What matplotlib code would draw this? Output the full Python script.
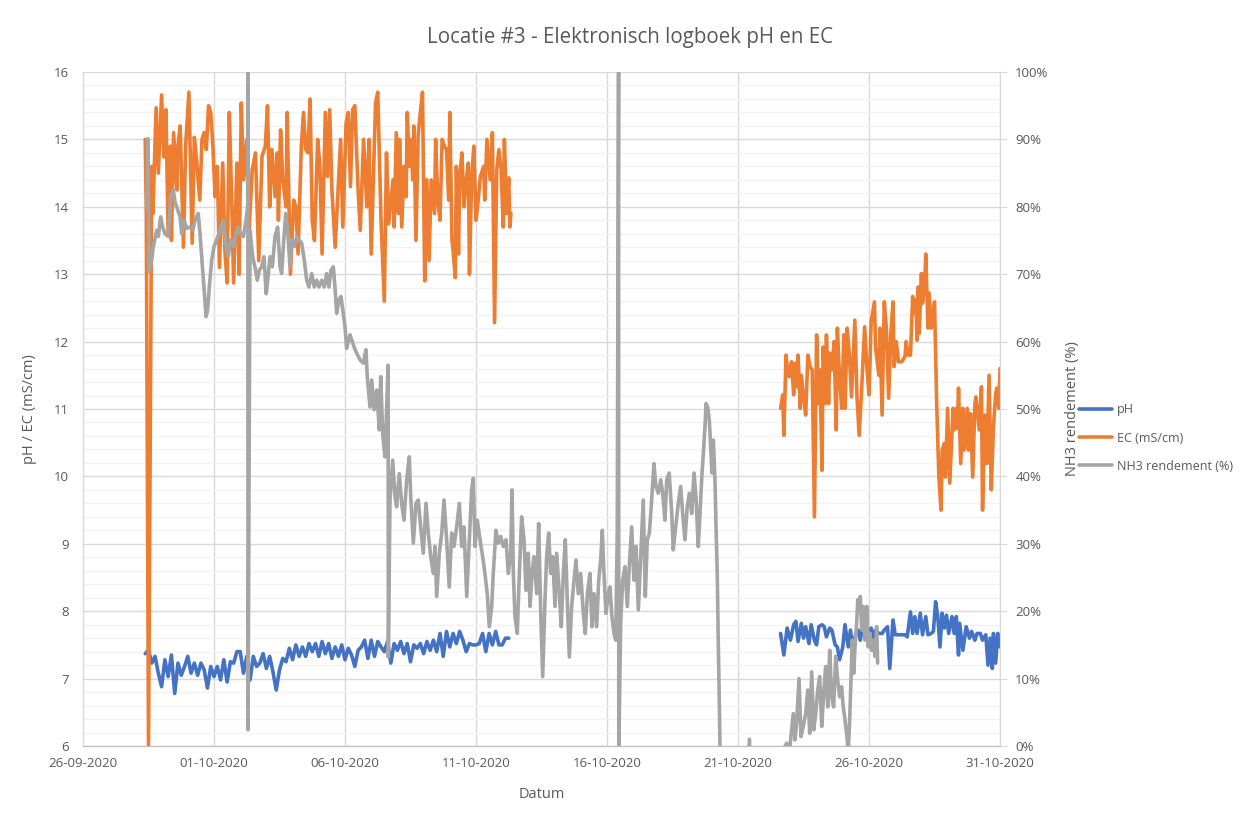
import numpy as np
import pandas as pd
import matplotlib
matplotlib.use("Agg")
import matplotlib.pyplot as plt
import matplotlib.dates as mdates
from matplotlib.ticker import MultipleLocator, FuncFormatter, FixedLocator

plt.rcParams['font.family'] = ['Open Sans', 'DejaVu Sans']

# ---------------- data ----------------
title = "Locatie #3 - Elektronisch logboek pH en EC"
base_date = "2020-09-26"      # hours below are counted from this date
x_start, x_end = "2020-09-26", "2020-10-31"

# EC (mS/cm), first logging period: (hour, value)
ec_part1 = [
    (57, 15.0), (58, 13.9), (60, 6.0), (63, 14.6), (64, 13.9), (67, 15.47), (69, 14.5), (72, 15.66), (74, 14.74), (76, 15.44),
    (78, 13.6), (80, 14.9), (81, 13.5), (83, 15.1), (86, 14.25), (87, 14.9), (89, 15.2), (92, 13.4), (94, 14.9), (97, 15.7),
    (100, 13.46), (102, 15.03), (104, 14.7), (107, 14.1), (109, 15.0), (111, 15.1), (113, 14.85), (115, 15.5), (117, 15.4), (119, 14.9),
    (121, 14.15), (123, 14.6), (125, 13.1), (128, 14.65), (130, 13.35), (132, 12.87), (134, 15.4), (136, 14.25), (138, 12.87), (141, 14.65),
    (143, 13.0), (145, 15.54), (147, 14.4), (150, 15.0), (152, 13.6), (155, 14.55), (158, 14.8), (161, 13.2), (164, 14.75), (167, 14.9),
    (169, 15.5), (171, 14.0), (173, 14.85), (176, 14.15), (178, 14.8), (179, 13.8), (181, 15.14), (183, 14.4), (186, 14.0), (187, 15.4),
    (190, 13.0), (193, 14.1), (195, 14.0), (197, 13.3), (200, 14.9), (202, 15.4), (204, 14.85), (206, 14.8), (208, 15.6), (210, 13.8),
    (212, 13.5), (215, 15.0), (217, 14.6), (219, 13.3), (222, 15.4), (224, 14.45), (226, 15.44), (228, 14.25), (231, 13.4), (234, 14.35),
    (236, 15.0), (238, 13.7), (241, 15.24), (243, 15.4), (245, 14.3), (247, 15.44), (249, 15.5), (252, 14.25), (254, 13.65), (257, 15.0),
    (260, 14.0), (262, 15.0), (264, 13.3), (266, 14.4), (268, 15.55), (270, 15.7), (273, 13.8), (276, 12.6), (278, 14.8), (280, 13.75),
    (284, 14.4), (285, 13.7), (287, 15.1), (289, 13.9), (290, 15.0), (292, 13.7), (294, 14.6), (296, 14.15), (297, 15.4), (299, 14.6),
    (301, 15.0), (302, 14.4), (303, 15.2), (305, 13.5), (307, 15.06), (309, 15.4), (311, 15.7), (313, 12.9), (315, 14.4), (317, 13.2),
    (319, 14.4), (322, 13.9), (323, 15.0), (325, 14.1), (327, 13.8), (329, 15.0), (331, 14.9), (333, 14.85), (335, 14.1), (336, 15.4),
    (338, 13.5), (339, 13.35), (341, 12.95), (342, 14.6), (344, 13.3), (345, 14.4), (347, 14.8), (349, 14.0), (351, 14.4), (353, 14.65),
    (354, 13.0), (356, 14.4), (358, 14.9), (360, 13.8), (362, 14.1), (364, 14.45), (367, 14.6), (368, 14.1), (370, 15.0), (373, 14.4),
    (375, 15.1), (377, 12.28), (379, 14.55), (381, 14.85), (383, 14.55), (385, 13.7), (386, 15.0), (388, 13.9), (390, 14.43), (391, 13.7),
    (392, 13.9),
]

# EC (mS/cm), second logging period: (hour, value)
ec_part2 = [
    (639, 11.01), (641, 11.21), (642, 10.61), (644, 11.80), (646, 11.50), (647, 11.48), (649, 11.70), (651, 11.21), (652, 11.68), (654, 11.33),
    (655, 11.80), (657, 11.01), (658, 11.50), (660, 11.18), (662, 10.91), (664, 11.80), (666, 11.63), (668, 11.58), (670, 9.40), (672, 12.10),
    (674, 11.08), (675, 11.58), (677, 10.09), (678, 11.92), (680, 11.08), (681, 12.10), (683, 11.08), (684, 11.83), (686, 11.58), (688, 12.0),
    (690, 10.69), (691, 12.2), (693, 11.48), (695, 11.01), (697, 12.10), (698, 11.01), (700, 12.2), (702, 11.80), (704, 11.18), (707, 12.32),
    (709, 11.18), (711, 10.61), (713, 11.21), (716, 12.22), (718, 11.63), (720, 11.21), (722, 12.30), (725, 12.59), (726, 11.92), (729, 11.50),
    (730, 12.2), (732, 10.91), (734, 12.59), (736, 12.17), (738, 11.16), (740, 12.12), (742, 12.59), (743, 11.63), (745, 12.0), (747, 11.70),
    (750, 11.70), (753, 11.78), (754, 12.0), (756, 11.80), (758, 11.80), (760, 12.67), (761, 12.42), (763, 12.62), (764, 12.02), (765, 12.81),
    (766, 12.12), (768, 13.01), (769, 12.57), (771, 12.86), (772, 13.3), (774, 12.2), (775, 12.72), (777, 12.2), (778, 12.32), (780, 12.59),
    (782, 11.08), (784, 9.99), (786, 9.50), (787, 10.39), (789, 10.49), (790, 9.99), (792, 11.01), (794, 9.90), (797, 11.01), (798, 10.69),
    (800, 11.01), (801, 10.71), (802, 11.31), (804, 10.19), (806, 11.01), (807, 10.39), (810, 11.01), (811, 10.39), (813, 10.93), (815, 9.99),
    (817, 11.08), (818, 11.18), (821, 10.69), (823, 11.33), (824, 9.50), (826, 10.91), (828, 10.19), (830, 11.50), (832, 9.80), (834, 10.74),
    (836, 11.21), (837, 11.31), (839, 11.01), (840, 11.6),
]

# pH, first logging period, one reading every 3 hours
ph_part1_start = "2020-09-28 09:00"
ph_part1 = [
    7.37, 7.42, 7.23, 7.33, 7.08, 6.88, 7.28, 7.03, 7.35, 6.78,
    7.23, 7.05, 7.18, 7.33, 7.08, 7.23, 7.05, 7.23, 7.13, 6.86,
    7.18, 7.03, 7.18, 6.98, 7.28, 6.95, 7.25, 7.23, 7.40, 7.40,
    7.08, 7.33, 6.98, 7.33, 7.18, 7.23, 7.37, 7.15, 7.33, 7.10,
    6.83, 7.13, 7.30, 7.25, 7.45, 7.28, 7.50, 7.33, 7.47, 7.33,
    7.52, 7.40, 7.52, 7.33, 7.55, 7.37, 7.52, 7.30, 7.47, 7.33,
    7.50, 7.28, 7.45, 7.35, 7.18, 7.42, 7.47, 7.57, 7.30, 7.57,
    7.33, 7.55, 7.47, 7.40, 7.55, 7.23, 7.52, 7.42, 7.55, 7.37,
    7.52, 7.25, 7.50, 7.45, 7.52, 7.37, 7.55, 7.42, 7.57, 7.40,
    7.67, 7.33, 7.70, 7.47, 7.67, 7.52, 7.70, 7.57, 7.40, 7.52,
    7.50, 7.50, 7.52, 7.67, 7.40, 7.67, 7.50, 7.70, 7.50, 7.50,
    7.60, 7.60,
]

# pH, second logging period: (hour, value)
ph_part2 = [
    (639, 7.67), (642, 7.35), (645, 7.75), (648, 7.57), (651, 7.80), (653, 7.85), (655, 7.55), (658, 7.82), (660, 7.60), (662, 7.77),
    (665, 7.52), (667, 7.80), (670, 7.57), (672, 7.50), (674, 7.77), (677, 7.80), (679, 7.77), (681, 7.62), (684, 7.75), (686, 7.72),
    (689, 7.50), (691, 7.47), (693, 7.28), (696, 7.47), (698, 7.80), (701, 7.47), (703, 7.72), (705, 7.47), (708, 7.67), (710, 7.72),
    (712, 7.57), (714, 7.75), (717, 7.60), (719, 7.60), (722, 7.75), (724, 7.60), (726, 7.72), (729, 7.67), (732, 7.67), (734, 7.72),
    (737, 7.77), (739, 7.15), (742, 7.87), (744, 7.65), (747, 7.65), (750, 7.65), (753, 7.65), (755, 7.62), (758, 7.99), (760, 7.67),
    (762, 7.92), (764, 7.67), (767, 7.97), (769, 7.65), (772, 7.92), (774, 7.65), (777, 7.67), (779, 7.70), (781, 8.14), (783, 7.92),
    (785, 7.47), (787, 7.97), (789, 7.75), (791, 7.94), (793, 7.67), (796, 7.92), (798, 7.67), (800, 7.92), (802, 7.35), (803, 7.82),
    (806, 7.42), (809, 7.77), (812, 7.60), (814, 7.70), (817, 7.57), (819, 7.67), (822, 7.67), (824, 7.57), (827, 7.65), (829, 7.20),
    (831, 7.60), (833, 7.15), (834, 7.67), (836, 7.23), (838, 7.67), (840, 7.47),
]

# NH3 rendement (%): (hour, value)
nh3_rendement = [
    (58.5, 80.0), (59.3, 90.1), (60.5, 70.4), (62.9, 72.1), (64.4, 74.1), (67.5, 76.5), (69.0, 75.6), (71.1, 78.5), (73.0, 77.0), (75.1, 76.0),
    (78.2, 75.6), (80.3, 81.5), (82.7, 82.5), (84.3, 80.7), (85.8, 80.0), (88.9, 78.5), (90.4, 76.0), (92.5, 78.0), (95.0, 76.8), (98.0, 77.0),
    (100.5, 76.5), (102.6, 78.0), (105.6, 79.0), (107.2, 76.0), (108.7, 72.6), (110.8, 68.1), (112.7, 63.7), (114.2, 64.7), (115.7, 68.1), (117.9, 72.1),
    (120.0, 74.1), (122.5, 75.1), (125.5, 76.5), (128.5, 78.0), (131.0, 74.1), (133.1, 72.6), (135.3, 75.1), (137.7, 74.1), (140.1, 76.0), (142.3, 77.0),
    (144.4, 76.0), (146.9, 75.6), (149.3, 78.0), (150.9, 80.0), (151.0, 101.0), (151.2, 2.4), (153.0, 76.5), (155.4, 72.6), (157.5, 71.1), (159.7, 69.1),
    (161.5, 70.6), (163.7, 71.1), (165.8, 72.6), (167.8, 67.1), (169.2, 69.1), (171.3, 72.6), (173.4, 71.1), (175.9, 75.6), (178.3, 77.0), (180.5, 71.1),
    (182.0, 70.1), (183.5, 74.1), (185.7, 79.0), (187.5, 76.5), (189.6, 71.1), (191.2, 75.1), (193.6, 74.1), (195.8, 75.6), (197.9, 75.1), (200.3, 74.6),
    (202.7, 72.1), (204.9, 69.1), (207.0, 68.1), (209.5, 70.1), (211.9, 68.1), (214.1, 69.1), (216.2, 68.1), (218.7, 69.1), (221.0, 68.1), (223.2, 70.1),
    (225.3, 68.1), (227.2, 70.6), (229.3, 71.1), (230.8, 68.1), (232.4, 64.2), (234.5, 66.2), (236.3, 66.7), (238.4, 64.2), (240.0, 62.2), (241.5, 59.0),
    (244.6, 61.0), (249.2, 58.8), (253.7, 57.3), (256.8, 56.8), (259.2, 58.8), (260.4, 54.8), (262.9, 50.3), (264.5, 54.3), (266.6, 49.9), (269.1, 52.8),
    (271.4, 46.9), (272.7, 54.8), (274.5, 46.4), (276.6, 42.9), (278.2, 50.3), (279.5, 56.5), (279.7, 13.2), (281.2, 36.5), (283.7, 42.4), (285.8, 37.0),
    (287.3, 35.5), (289.7, 40.4), (291.9, 36.0), (294.0, 33.5), (296.5, 39.5), (298.9, 42.9), (300.2, 37.0), (302.6, 30.1), (305.0, 36.0), (307.1, 36.5),
    (309.3, 32.5), (311.7, 28.6), (314.2, 36.0), (316.3, 31.6), (318.5, 28.1), (320.9, 25.6), (322.4, 29.6), (324.0, 22.2), (326.4, 28.6), (328.6, 31.6),
    (330.7, 36.5), (333.1, 30.6), (335.5, 23.6), (337.7, 31.6), (339.8, 29.6), (342.3, 32.5), (344.7, 36.0), (346.9, 29.6), (349.0, 32.5), (351.5, 22.2),
    (353.9, 30.6), (356.0, 38.0), (357.5, 39.7), (359.1, 29.6), (361.2, 33.5), (363.7, 30.6), (366.1, 28.1), (368.2, 25.6), (370.3, 22.6), (372.2, 17.7),
    (374.4, 20.7), (375.8, 25.6), (378.3, 32.0), (380.4, 30.1), (382.6, 31.1), (385.0, 29.6), (387.5, 30.6), (389.6, 25.6), (391.8, 28.6), (393.0, 38.0),
    (394.2, 25.6), (395.7, 19.2), (397.8, 16.7), (399.7, 25.6), (401.8, 34.0), (404.0, 30.6), (405.8, 23.1), (407.9, 28.6), (409.5, 20.7), (411.3, 25.6),
    (413.1, 28.1), (415.6, 22.6), (417.4, 33.0), (419.3, 19.7), (421.1, 10.3), (423.2, 21.7), (424.7, 28.1), (426.6, 31.6), (428.4, 25.6), (430.3, 28.1),
    (432.4, 20.7), (433.9, 28.6), (436.3, 22.6), (438.1, 17.7), (440.0, 25.6), (441.8, 30.6), (443.6, 21.7), (445.5, 13.2), (447.6, 20.7), (449.8, 24.6),
    (451.6, 27.6), (453.7, 22.6), (455.9, 25.6), (458.3, 19.7), (460.1, 16.7), (462.0, 22.6), (464.4, 25.6), (466.2, 17.7), (468.1, 22.6), (470.5, 17.7),
    (472.4, 24.6), (474.2, 27.6), (475.7, 32.0), (477.2, 25.6), (479.1, 19.7), (481.2, 22.6), (482.7, 23.6), (484.5, 19.2), (486.4, 16.7), (488.0, 15.7),
    (489.4, 32.0), (490.6, 101.0), (490.8, -1.0), (492.5, 18.2), (494.4, 24.6), (496.5, 26.6), (498.6, 20.7), (500.4, 26.6), (502.6, 32.5), (504.7, 24.6),
    (506.6, 29.6), (508.7, 20.2), (510.9, 28.1), (513.2, 36.5), (515.1, 22.2), (516.9, 30.6), (518.8, 31.6), (520.9, 36.5), (523.0, 41.9), (524.8, 38.5),
    (527.0, 37.5), (529.2, 39.5), (531.0, 37.5), (533.1, 33.5), (534.7, 39.5), (537.0, 40.5), (539.3, 34.5), (540.7, 29.1), (542.9, 32.5), (545.3, 36.0),
    (547.5, 38.5), (549.3, 34.5), (551.4, 30.6), (553.5, 35.5), (555.4, 37.5), (557.6, 34.5), (559.7, 40.5), (561.5, 37.0), (563.6, 29.6), (565.2, 34.5),
    (566.7, 39.5), (568.2, 43.4), (569.8, 47.4), (570.7, 50.8), (572.2, 50.3), (573.7, 48.4), (575.0, 44.4), (576.2, 40.5), (577.4, 45.4), (578.9, 39.5),
    (579.8, 33.0), (581.0, 25.6), (581.9, 15.7), (582.8, 7.3), (584.0, -5.0), (608.0, -5.0), (610.5, 1.0), (611.5, -5.0), (640.0, -5.0), (641.5, -0.5),
    (644.5, 0.4), (647.6, -0.1), (650.6, 4.8), (652.2, 0.9), (653.7, 3.4), (655.9, 10.0), (657.7, 1.4), (659.8, 2.9), (662.0, 4.8), (663.9, 8.3),
    (665.7, 1.9), (667.5, 11.0), (669.4, 2.4), (671.2, 4.8), (673.0, 8.3), (674.8, 10.3), (676.7, 2.9), (678.5, 7.8), (680.3, 11.8), (682.2, 5.8),
    (684.0, 14.2), (685.8, 7.3), (687.6, 5.8), (689.5, 13.3), (691.3, 9.8), (693.1, 7.3), (694.9, 8.8), (696.4, 5.8), (698.0, 3.9), (699.8, 1.4),
    (701.0, -1.0), (702.3, 3.9), (703.5, 9.8), (704.7, 15.7), (706.0, 10.8), (707.2, 14.7), (708.7, 18.2), (709.7, 21.7), (710.9, 20.2), (712.0, 22.2),
    (713.3, 17.2), (714.8, 20.7), (716.3, 15.7), (717.9, 20.7), (719.3, 14.7), (720.9, 16.7), (722.4, 14.2), (723.9, 15.7), (725.5, 13.3), (727.0, 17.7),
    (727.9, 12.3),
]

series_names = ["pH", "EC (mS/cm)", "NH3 rendement (%)"]
left_ylabel = "pH / EC (mS/cm)"
right_ylabel = "NH3 rendement (%)"
xlabel = "Datum"

# ---------------- helpers ----------------
base = pd.Timestamp(base_date)


def to_time(pairs):
    h = np.array([p[0] for p in pairs], dtype=float)
    v = np.array([p[1] for p in pairs], dtype=float)
    t = (base + pd.to_timedelta(h, unit="h")).to_numpy()
    return t, v


nan = np.array([np.nan])

ec1_t, ec1_v = to_time(ec_part1)
ec2_t, ec2_v = to_time(ec_part2)
ph1_t = pd.date_range(ph_part1_start, periods=len(ph_part1), freq="3h").to_numpy()
ph1_v = np.array(ph_part1, dtype=float)
ph2_t, ph2_v = to_time(ph_part2)
nh3_t, nh3_v = to_time(nh3_rendement)

# ---------------- figure ----------------
C_PH, C_EC, C_NH3 = "#4472C4", "#ED7D31", "#A5A5A5"
TXT = "#595959"
fig = plt.figure(figsize=(12.56, 8.16), dpi=100)
ax = fig.add_axes([83 / 1256, 1 - 746 / 816, (1000 - 83) / 1256, (746 - 72) / 816])
ax2 = ax.twinx()

lw = 2.6
kw = dict(solid_joinstyle="round", solid_capstyle="round")
l_ph, = ax.plot(np.concatenate([ph1_t, ph1_t[-1:], ph2_t]),
                np.concatenate([ph1_v, nan, ph2_v]), color=C_PH, lw=lw, **kw)
l_ec, = ax.plot(np.concatenate([ec1_t, ec1_t[-1:], ec2_t]),
                np.concatenate([ec1_v, nan, ec2_v]), color=C_EC, lw=lw, **kw)
l_nh3, = ax2.plot(nh3_t, nh3_v, color=C_NH3, lw=lw, **kw)

# axes limits and ticks
ax.set_xlim(pd.Timestamp(x_start), pd.Timestamp(x_end))
ax.set_ylim(6, 16)
ax2.set_ylim(0, 100)
ax.xaxis.set_major_locator(FixedLocator(mdates.date2num(pd.date_range(x_start, x_end, freq="5D"))))
ax.xaxis.set_major_formatter(mdates.DateFormatter("%d-%m-%Y"))
ax.yaxis.set_major_locator(MultipleLocator(1))
ax.yaxis.set_minor_locator(MultipleLocator(0.2))
ax2.yaxis.set_major_locator(MultipleLocator(10))
ax2.yaxis.set_major_formatter(FuncFormatter(lambda v, p: f"{v:.0f}%"))

ax.grid(True, which="major", axis="both", color="#D9D9D9", lw=1.0)
ax.grid(True, which="minor", axis="y", color="#F2F2F2", lw=1.0)
ax.set_axisbelow(True)

for a in (ax, ax2):
    a.spines["top"].set_visible(False)
    a.spines["left"].set_color("#D9D9D9")
    a.spines["right"].set_color("#D9D9D9")
    a.spines["bottom"].set_color("#BFBFBF")
ax.tick_params(axis="y", which="both", length=0, labelsize=9.5, labelcolor=TXT, pad=10)
ax.tick_params(axis="x", length=0, labelsize=9.5, labelcolor=TXT, pad=8)
ax2.tick_params(axis="y", which="both", length=5, color="#D9D9D9", labelsize=9.5, labelcolor=TXT, pad=6)
ax2.tick_params(axis="x", length=0)

ax.set_ylabel(left_ylabel, fontsize=10.5, color=TXT, labelpad=12)
ax.set_xlabel(xlabel, fontsize=10.5, color=TXT, labelpad=12)
ax2.set_ylabel(right_ylabel, fontsize=10.5, color=TXT, labelpad=12)
fig.text(630 / 1256, 1 - 38 / 816, title, ha="center", va="center",
         fontsize=14.8, color=TXT)

leg = fig.legend([l_ph, l_ec, l_nh3], series_names, loc="center left",
                 bbox_to_anchor=(1068 / 1256, 1 - 438 / 816), frameon=False,
                 fontsize=9, handlelength=2.6, labelspacing=1.2, handletextpad=0.45)
for t in leg.get_texts():
    t.set_color(TXT)

fig.savefig("out.png", dpi=100)
